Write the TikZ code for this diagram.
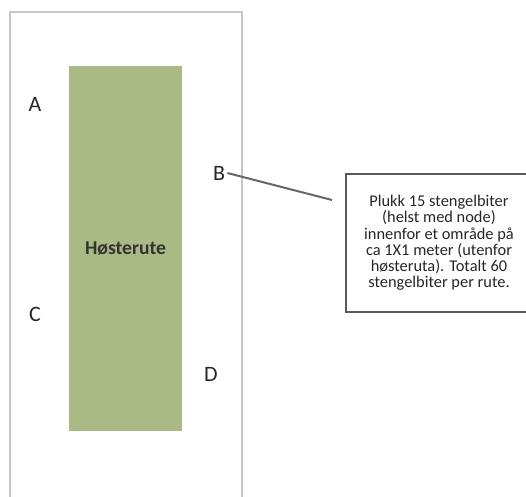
\documentclass[tikz,border=0pt]{standalone}
\usepackage{fontspec}
\setmainfont{Carlito}
\definecolor{rutegreen}{HTML}{A9BA84}

\begin{document}
\begin{tikzpicture}[x=0.5pt,y=-0.5pt,
    letter/.style={font=\fontsize{11}{13}\selectfont,text=black!85,inner sep=1pt},
    notebox/.style={draw=black!65,line width=1pt,minimum width=93pt,minimum height=69pt,
        align=center,font=\fontsize{8.2}{8.1}\selectfont,text=black!85}]
    \useasboundingbox (0,0) rectangle (526,497);
    \clip (0,0) rectangle (526,497);

    % field
    \draw[black!22,line width=1.2pt] (10,12) rectangle (242,520);

    % harvest plot
    \node[fill=rutegreen,minimum width=56.5pt,minimum height=182.5pt,inner sep=0pt,
        font=\bfseries\fontsize{9.8}{11}\selectfont,text=black!80] (rute) at (125.5,248.5) {Høsterute};

    % corner labels
    \node[letter] (a) at (35,104) {A};
    \node[letter] (b) at (219,173) {B};
    \node[letter] (c) at (35,314) {C};
    \node[letter] (d) at (211,374) {D};

    % note
    \node[notebox] (note) at (439,243) {Plukk 15 stengelbiter\\(helst med node)\\innenfor et område på\\ca 1X1 meter (utenfor\\høsteruta). Totalt 60\\stengelbiter per rute.};
    \coordinate (tip) at (332,200);
    \draw[black!60,line width=1pt] (b.east) -- (tip);
\end{tikzpicture}
\end{document}
